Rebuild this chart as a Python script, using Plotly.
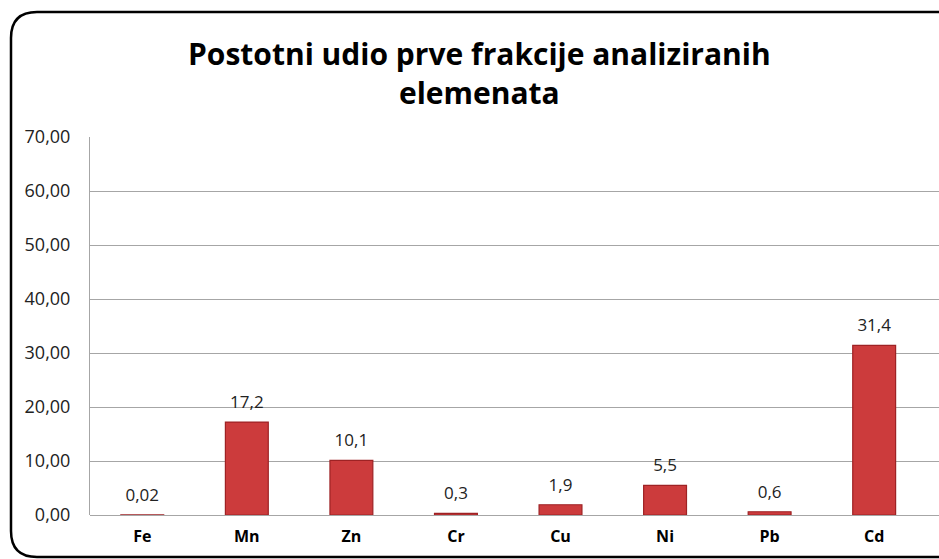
import plotly.graph_objects as go

categories = ["Fe", "Mn", "Zn", "Cr", "Cu", "Ni", "Pb", "Cd"]
values = [0.02, 17.2, 10.1, 0.3, 1.9, 5.5, 0.6, 31.4]
value_labels = ["0,02", "17,2", "10,1", "0,3", "1,9", "5,5", "0,6", "31,4"]
y_ticks = [0, 10, 20, 30, 40, 50, 60, 70]
title_text = "<b>Postotni udio prve frakcije analiziranih<br>elemenata</b>"

W, H = 939, 559
L, R, T, B = 90, 0, 137, 44
PW, PH = W - L - R, H - T - B
FONT = "Open Sans, DejaVu Sans"

def px(x):
    return (x - L) / PW

def py(y):
    return (H - B - y) / PH

fig = go.Figure()
fig.add_trace(go.Bar(
    x=categories, y=values, width=0.41,
    marker=dict(color="#CC3B3C", line=dict(color="#9E2224", width=1.2)),
    hoverinfo="x+y",
))
# value labels placed above the bars
fig.add_trace(go.Scatter(
    x=categories, y=values, mode="markers+text",
    marker=dict(size=14, opacity=0),
    text=value_labels, textposition="top center", cliponaxis=False,
    textfont=dict(family=FONT, size=17, color="#222222"),
    hoverinfo="skip",
))

# rounded border of the chart area
x0, x1, y0, y1, r = 11, 950, 12, 557, 26
path = (f"M {px(x0)},{py(y0 + r)} Q {px(x0)},{py(y0)} {px(x0 + r)},{py(y0)} "
        f"L {px(x1)},{py(y0)} M {px(x0)},{py(y0 + r)} L {px(x0)},{py(y1 - r)} "
        f"Q {px(x0)},{py(y1)} {px(x0 + r)},{py(y1)} L {px(x1)},{py(y1)}")

fig.update_layout(
    width=W, height=H,
    margin=dict(l=L, r=R, t=T, b=B),
    paper_bgcolor="white", plot_bgcolor="white",
    separators=", ",
    showlegend=False,
    xaxis=dict(
        range=[-0.5, 7.62], showgrid=False, showline=False, ticks="",
        tickfont=dict(family=FONT, size=16, color="black"),
        tickprefix="<b>", ticksuffix="</b>", ticklabelstandoff=10,
    ),
    yaxis=dict(
        range=[0, 70], tickvals=y_ticks, tickformat=".2f",
        showgrid=True, gridcolor="#A6A6A6", gridwidth=1,
        showline=True, linecolor="#A6A6A6", linewidth=1,
        zeroline=True, zerolinecolor="#A6A6A6", zerolinewidth=1,
        ticks="", ticklabelstandoff=15,
        tickfont=dict(family=FONT, size=18, color="#222222"),
    ),
    annotations=[dict(
        text=title_text, xref="paper", yref="paper",
        x=px(479), y=py(73), xanchor="center", yanchor="middle",
        showarrow=False, align="center",
        font=dict(family=FONT, size=30, color="black"),
    )],
    shapes=[dict(type="path", xref="paper", yref="paper", path=path,
                 line=dict(color="black", width=2.5), layer="above")],
)

fig.write_html("out.html", config={"displayModeBar": False},
               post_script="document.body.style.margin='0';")
